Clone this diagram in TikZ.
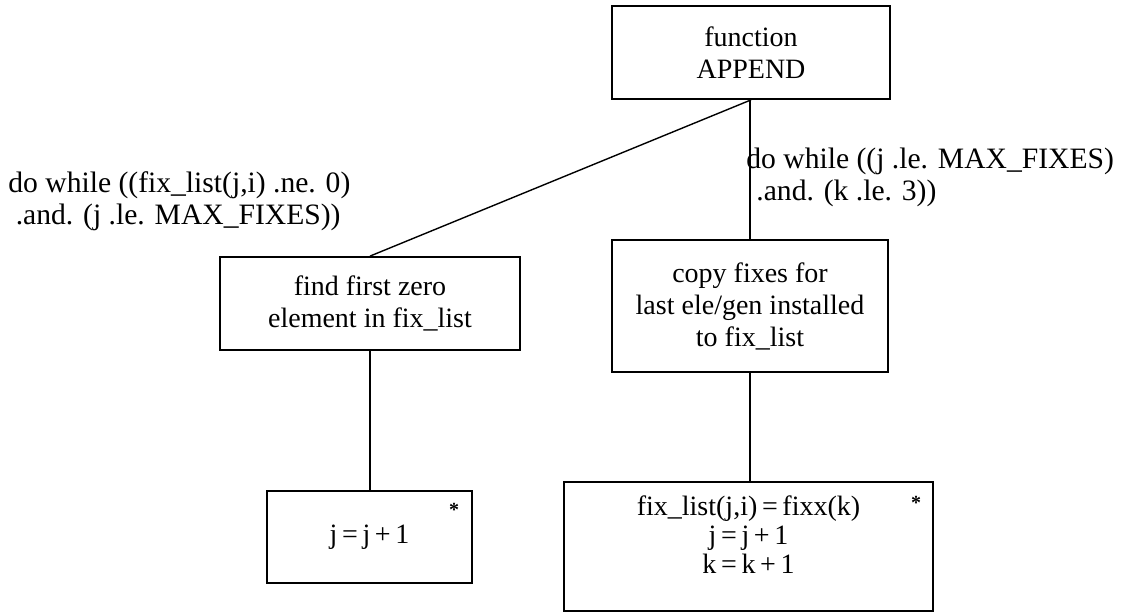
\documentclass[tikz,border=0pt]{standalone}
\usepackage{fontspec}
\setmainfont{Liberation Serif}

\begin{document}
\begin{tikzpicture}[x=0.5pt, y=-0.5pt,
  box/.style={draw, line width=0.9pt, align=center, inner sep=0pt,
    font=\fontsize{14}{16}\selectfont},
  cond/.style={align=left, anchor=north west, inner sep=0pt,
    font=\fontsize{14.8}{16}\selectfont},
  star/.style={inner sep=0pt, font=\normalsize\bfseries},
  link/.style={line width=0.7pt}]
  \useasboundingbox (0,0) rectangle (1133,612);
  % boxes
  \node[box, minimum width=139pt, minimum height=46.5pt] (append) at (751,52.5) {function\\APPEND};
  \node[box, minimum width=150pt, minimum height=46.5pt] (findzero) at (370,303.5)
    {find first zero\\element in fix\_list};
  \node[box, minimum width=138pt, minimum height=66pt] (copyfix) at (750,306)
    {copy fixes for\\last ele/gen installed\\to fix\_list};
  \node[box, minimum width=102.5pt, minimum height=46pt] (incj) at (369.5,537) {j\,=\,j\,+\,1};
  \node[box, minimum width=184.5pt, minimum height=64.5pt, text depth=12pt,
    font=\fontsize{14}{14.5}\selectfont] (update) at (748.5,546.5)
    {fix\_list(j,i)\,=\,fixx(k)\\j\,=\,j\,+\,1\\k\,=\,k\,+\,1};
  \node[star] (starl) at (454,510) {*};
  \node[star] (starr) at (916,503) {*};
  % connectors
  \draw[link] (append.south) -- (findzero.north);
  \draw[link] (append.south -| copyfix.north) -- (copyfix.north);
  \draw[link] (findzero.south) -- (incj.north -| findzero.south);
  \draw[link] (copyfix.south) -- (update.north -| copyfix.south);
  % loop conditions
  \node[cond] (condl) at (8,171) {do while ((fix\_list(j,i) .ne. 0)\\\ .and. (j .le. MAX\_FIXES))};
  \node[cond] (condr) at (746,148) {do while ((j .le. MAX\_FIXES)\\\hspace*{5pt}.and. (k .le. 3))};
\end{tikzpicture}
\end{document}
